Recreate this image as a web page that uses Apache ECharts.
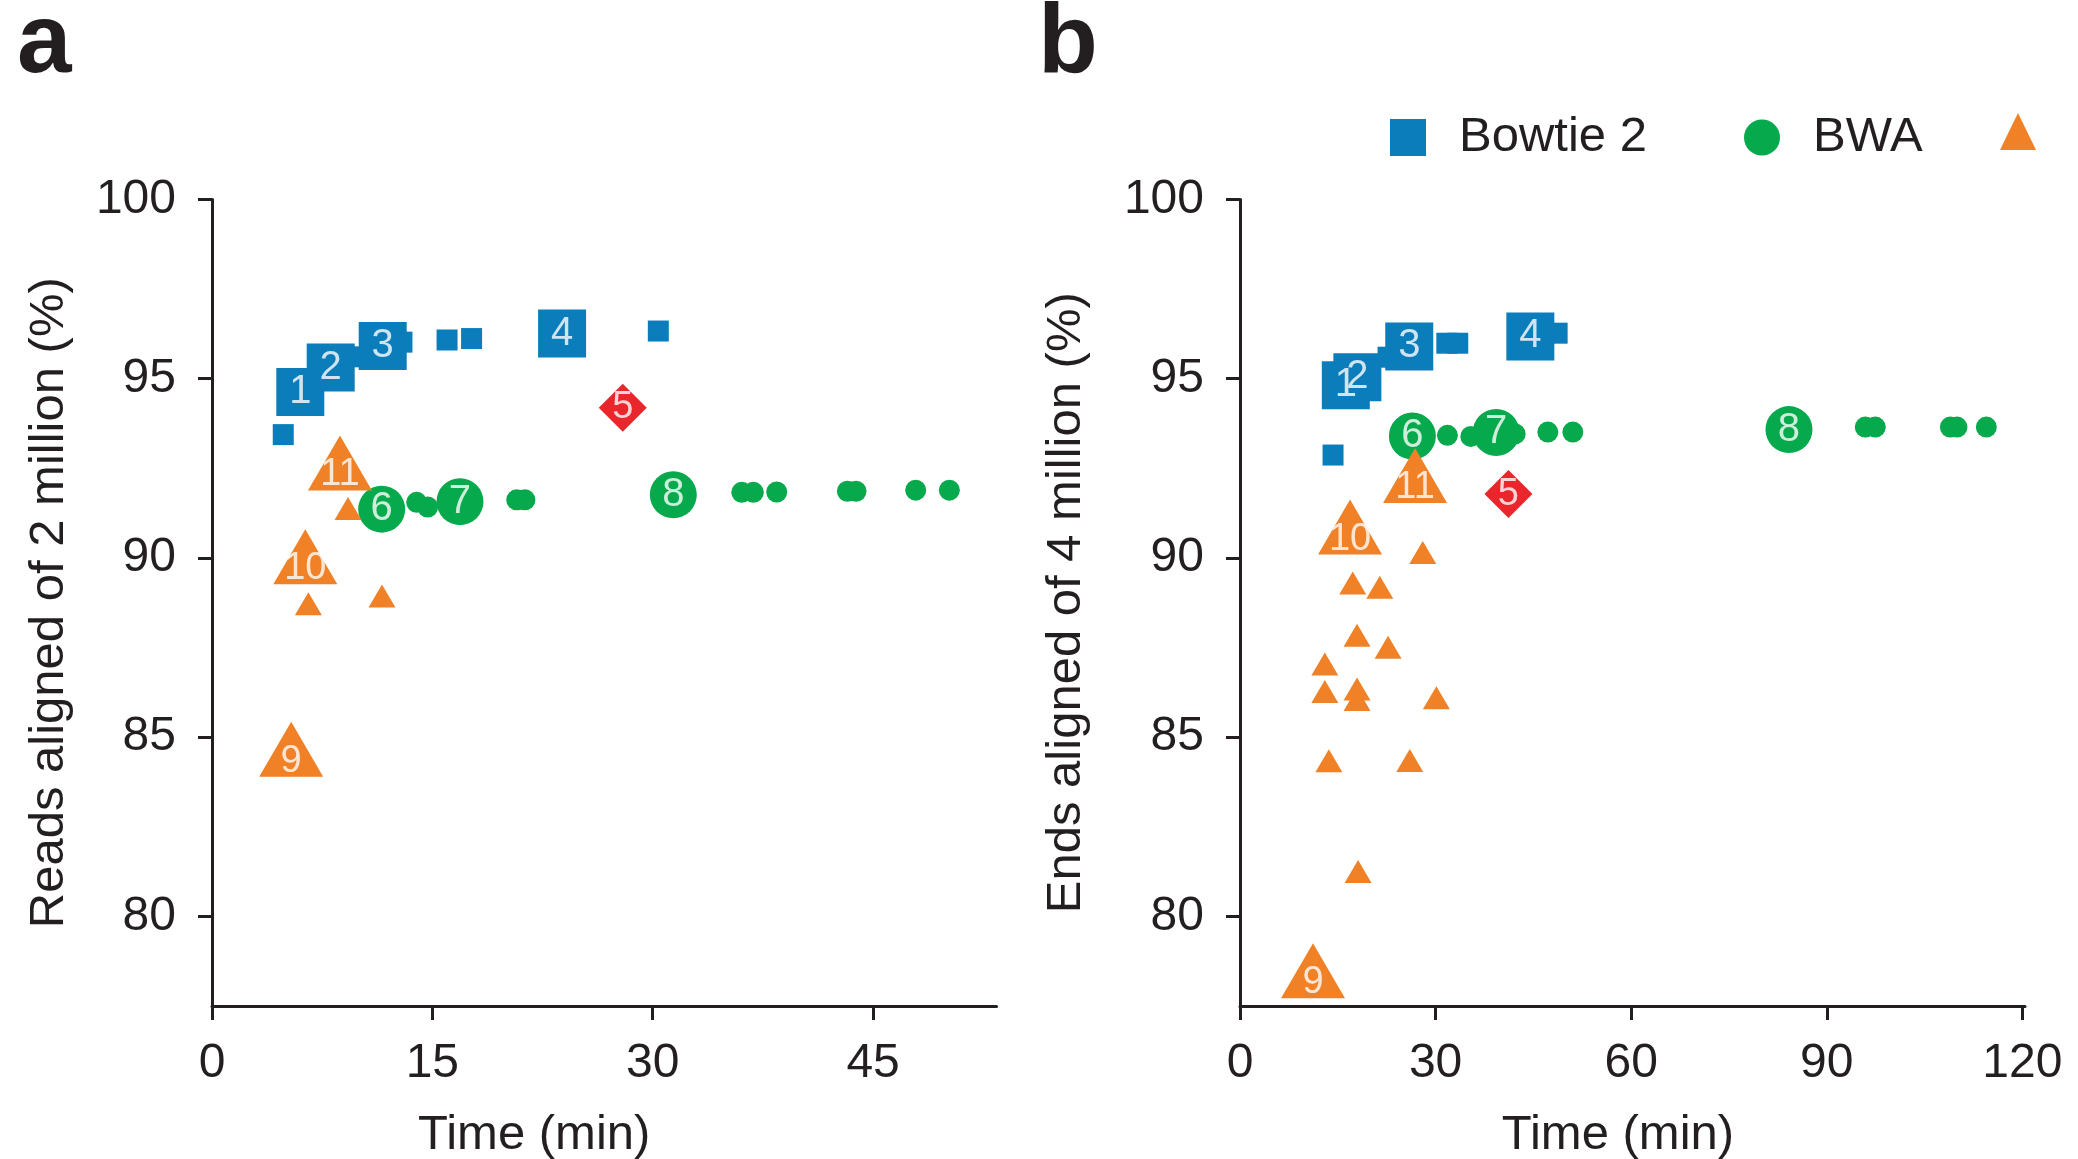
<!DOCTYPE html>
<html><head><meta charset="utf-8">
<script src="https://cdn.jsdelivr.net/npm/echarts/dist/echarts.min.js"></script>
<style>html,body{margin:0;padding:0;background:#fff}#chart{width:2078px;height:1159px}</style>
</head><body><div id="chart"></div><script>
// ---- tick labels ----
const xTicksA = [0, 15, 30, 45];
const xTicksB = [0, 30, 60, 90, 120];
const yTicks = [80, 85, 90, 95, 100];

// ---- panel a (2 million reads) : [time (min), % aligned, label] ----
const bowtieA_small = [[4.85, 93.44], [9.85, 95.61], [12.93, 96.02], [16.0, 96.08], [17.67, 96.12], [30.38, 96.33]];
const bowtieA_big = [[6.01, 94.63, '1'], [8.08, 95.31, '2'], [11.62, 95.91, '3'], [23.83, 96.26, '4']];
const bwaA_small = [[13.93, 91.55], [14.68, 91.42], [20.74, 91.62], [21.3, 91.62], [36.06, 91.83], [36.85, 91.83], [38.44, 91.84], [43.25, 91.86], [43.84, 91.86], [47.9, 91.89], [50.19, 91.89]];
const bwaA_big = [[11.55, 91.36, '6'], [16.88, 91.57, '7'], [31.4, 91.76, '8']];
const triA_small = [[9.26, 91.38], [6.56, 88.72], [11.57, 88.94]];
const triA_big = [[8.71, 92.65, '11'], [6.35, 90.03, '10'], [5.39, 84.66, '9']];
const redA = [[27.96, 94.19, '5']];

// ---- panel b (4 million ends) ----
const bowtieB_small = [[14.27, 92.87], [22.71, 95.6], [31.72, 95.99], [33.4, 95.99], [48.64, 96.27]];
const bowtieB_big = [[16.23, 94.82, '1'], [18.0, 95.04, '2'], [25.96, 95.9, '3'], [44.53, 96.18, '4']];
const bwaB_small = [[31.81, 93.42], [35.4, 93.39], [42.2, 93.46], [47.21, 93.51], [51.05, 93.51], [95.9, 93.65], [97.44, 93.65], [108.95, 93.65], [109.97, 93.65], [114.47, 93.65]];
const bwaB_big = [[26.44, 93.4, '6'], [39.28, 93.5, '7'], [84.2, 93.58, '8']];
const triB_small = [[28.03, 90.15], [17.29, 89.3], [21.44, 89.18], [17.95, 87.84], [22.71, 87.51], [13.01, 87.04], [13.01, 86.27], [17.95, 86.34], [17.95, 86.05], [30.12, 86.1], [13.63, 84.34], [26.04, 84.35], [18.11, 81.25]];
const triB_big = [[26.85, 92.3, '11'], [16.88, 90.86, '10'], [11.2, 78.48, '9']];
const redB = [[41.17, 91.78, '5']];

const FONT = "'Liberation Sans', Arial, Helvetica, sans-serif";
const INK = '#231F20';
const C_BLUE = '#0A7DBA', C_GREEN = '#06A94B', C_ORANGE = '#F08127', C_RED = '#E8262B';

// marker series (small marks first, big numbered marks on top)
function marks(name, small, big, shape, smallSize, bigSize, color, ax) {
  const data = small.map(p => ({ value: [p[0], p[1]], symbolSize: smallSize }))
    .concat(big.map(p => ({ value: [p[0], p[1]], symbolSize: bigSize })));
  return {
    type: 'scatter', name, xAxisIndex: ax, yAxisIndex: ax, symbol: shape, z: 2,
    itemStyle: { color, opacity: 1 }, label: { show: false },
    emphasis: { disabled: true }, animation: false, data
  };
}
// number labels drawn above every marker
function labels(name, big, ax, size, offset) {
  return {
    type: 'scatter', name: name + ' labels', xAxisIndex: ax, yAxisIndex: ax, z: 5,
    symbol: 'circle', symbolSize: 1, itemStyle: { color: 'rgba(0,0,0,0)' },
    label: { show: true, position: 'inside', formatter: p => p.data[2], color: '#fff',
      fontSize: size, fontFamily: FONT, offset },
    emphasis: { disabled: true }, silent: true, animation: false, data: big
  };
}

function xAxis(idx, max, ticks, padRight) {
  return {
    gridIndex: idx, type: 'value', min: 0, max,
    splitLine: { show: false },
    axisLine: { onZero: false, lineStyle: { color: INK, width: 3 } },
    axisTick: { customValues: ticks, length: 14, lineStyle: { color: INK, width: 3 } },
    axisLabel: { customValues: ticks, margin: 34, fontSize: 48, color: INK, fontFamily: FONT },
    name: 'Time (min)', nameLocation: 'middle', nameGap: 105,
    nameTextStyle: { fontSize: 49, color: INK, fontFamily: FONT, padding: [0, padRight, 0, 0] }
  };
}
function yAxis(idx, name, gap) {
  return {
    gridIndex: idx, type: 'value', min: 77.5, max: 100,
    splitLine: { show: false },
    axisLine: { onZero: false, lineStyle: { color: INK, width: 3 } },
    axisTick: { customValues: yTicks, length: 14, lineStyle: { color: INK, width: 3 } },
    axisLabel: { customValues: yTicks, margin: 36, fontSize: 48, color: INK, fontFamily: FONT },
    name, nameLocation: 'middle', nameGap: gap,
    nameTextStyle: { fontSize: 49, color: INK, fontFamily: FONT }
  };
}

const legendBase = {
  orient: 'horizontal', top: 113, padding: 0, itemWidth: 36, itemHeight: 37, selectedMode: false,
  textStyle: { fontSize: 49, color: INK, fontFamily: FONT, padding: [0, 0, 0, 28] }
};
const PANEL_FONT = "'Liberation Sans Narrow', 'Liberation Sans', Arial, sans-serif";

const option = {
  backgroundColor: '#fff',
  animation: false,
  title: [
    { text: 'a', left: 17, top: -4, padding: 0,
      textStyle: { fontSize: 98, fontWeight: 'bold', color: INK, fontFamily: PANEL_FONT } },
    { text: 'b', left: 1038, top: -4, padding: 0,
      textStyle: { fontSize: 98, fontWeight: 'bold', color: INK, fontFamily: PANEL_FONT } }
  ],
  legend: [
    Object.assign({}, legendBase, { left: 1390, data: [{ name: 'Bowtie 2', icon: 'rect' }] }),
    Object.assign({}, legendBase, { left: 1744, data: [{ name: 'BWA', icon: 'circle' }] }),
    Object.assign({}, legendBase, { left: 2000, data: [{ name: 'SOAP2', icon: 'triangle' }], formatter: () => '' })
  ],
  grid: [
    { left: 212, top: 199.5, width: 784.5, height: 806.4, outerBoundsMode: 'none', containLabel: false },
    { left: 1240, top: 199.5, width: 785, height: 806.4, outerBoundsMode: 'none', containLabel: false }
  ],
  xAxis: [xAxis(0, 53.4, xTicksA, 140), xAxis(1, 120.4, xTicksB, 29)],
  yAxis: [yAxis(0, 'Reads aligned of 2 million (%)', 138), yAxis(1, 'Ends aligned of 4 million (%)', 149)],
  series: [
    marks('BWA', bwaA_small, bwaA_big, 'circle', 21, 47, C_GREEN, 0),
    marks('SOAP2', triA_small, triA_big, 'triangle', [27, 23], [64, 55], C_ORANGE, 0),
    marks('Bowtie 2', bowtieA_small, bowtieA_big, 'rect', 21, 48, C_BLUE, 0),
    marks('Bowtie', [], redA, 'diamond', 48, 48, C_RED, 0),
    marks('BWA', bwaB_small, bwaB_big, 'circle', 21, 47, C_GREEN, 1),
    marks('SOAP2', triB_small, triB_big, 'triangle', [27, 23], [64, 55], C_ORANGE, 1),
    marks('Bowtie 2', bowtieB_small, bowtieB_big, 'rect', 21, 48, C_BLUE, 1),
    marks('Bowtie', [], redB, 'diamond', 48, 48, C_RED, 1),
    labels('BWA', bwaA_big, 0, 40, [0, 0]),
    labels('SOAP2', triA_big, 0, 38, [0, 12]),
    labels('Bowtie 2', bowtieA_big, 0, 40, [0, 0]),
    labels('Bowtie', redA, 0, 38, [0, 0]),
    labels('BWA', bwaB_big, 1, 40, [0, 0]),
    labels('SOAP2', triB_big, 1, 38, [0, 12]),
    labels('Bowtie 2', bowtieB_big, 1, 40, [0, 0]),
    labels('Bowtie', redB, 1, 38, [0, 0])
  ]
};

const chart = echarts.init(document.getElementById('chart'), null, { renderer: 'canvas' });
chart.setOption(option);
</script></body></html>
